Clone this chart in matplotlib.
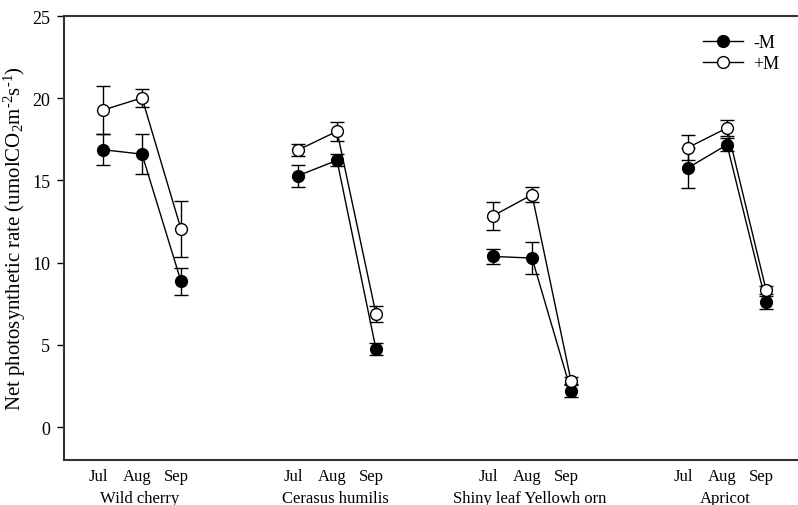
import numpy as np
import matplotlib
matplotlib.use("Agg")
import matplotlib.pyplot as plt
from matplotlib.lines import Line2D

plt.rcParams['font.family'] = ['Liberation Serif', 'DejaVu Serif']
plt.rcParams['mathtext.fontset'] = 'custom'
plt.rcParams['mathtext.rm'] = 'Liberation Serif'
plt.rcParams['mathtext.default'] = 'regular'

species = ["Wild cherry", "Cerasus humilis", "Shiny leaf Yellowh orn", "Apricot"]
months = ["Jul", "Aug", "Sep"]

# 每个树种 Jul/Aug/Sep 的均值和误差
minus_m = [[16.87, 16.60, 8.86],
           [15.29, 16.22, 4.74],
           [10.38, 10.28, 2.21],
           [15.77, 17.17, 7.58]]
minus_m_err = [[0.93, 1.20, 0.82],
               [0.67, 0.36, 0.38],
               [0.48, 0.95, 0.35],
               [1.20, 0.40, 0.40]]
plus_m = [[19.28, 20.02, 12.04],
          [16.85, 17.99, 6.87],
          [12.85, 14.13, 2.82],
          [17.00, 18.19, 8.35]]
plus_m_err = [[1.45, 0.55, 1.70],
              [0.35, 0.58, 0.50],
              [0.85, 0.45, 0.20],
              [0.75, 0.50, 0.25]]

fig = plt.figure(figsize=(7.98, 5.06), dpi=100)
ax = fig.add_axes([0.0802, 0.0889, 0.9198, 0.8775])

tick_pos = []
tick_lab = []
for i, name in enumerate(species):
    x = np.arange(3) + 1 + 5 * i
    ax.errorbar(x, minus_m[i], yerr=minus_m_err[i], fmt='-o', color='black',
                mfc='black', mec='black', ms=8.5, lw=1, elinewidth=1,
                capsize=5, capthick=1, zorder=2)
    ax.errorbar(x, plus_m[i], yerr=plus_m_err[i], fmt='-o', color='black',
                mfc='white', mec='black', ms=8.5, lw=1, elinewidth=1,
                capsize=5, capthick=1, zorder=3)
    tick_pos += list(x - 0.12)
    tick_lab += months
    ax.text(x[1] - 0.05, -0.085, name, transform=ax.get_xaxis_transform(),
            ha='center', va='center', fontsize=12)

ax.set_xlim(0, 18.82)
ax.set_ylim(-2, 25)
ax.set_yticks([0, 5, 10, 15, 20, 25])
ax.set_xticks(tick_pos)
ax.set_xticklabels(tick_lab, fontsize=12)
ax.tick_params(axis='x', length=0, pad=6)
ax.tick_params(axis='y', direction='out', length=5, width=1, labelsize=13, pad=5)

for s in ['left', 'bottom', 'top']:
    ax.spines[s].set_linewidth(1.5)
    ax.spines[s].set_color('#333333')
ax.spines['right'].set_visible(False)

ax.set_ylabel("Net photosynthetic rate (umolCO$_2$m$^{\\text{-}2}$s$^{\\text{-}1}$)",
              fontsize=15, labelpad=3)

# 图例只画线和圆点，不带误差线
handles = [Line2D([], [], color='black', lw=1, marker='o', ms=8.5, mfc='black', mec='black'),
           Line2D([], [], color='black', lw=1, marker='o', ms=8.5, mfc='white', mec='black')]
ax.legend(handles, ['-M', '+M'], loc='upper right', bbox_to_anchor=(0.997, 0.995),
          frameon=False, fontsize=13, handlelength=2.2, handletextpad=0.6,
          labelspacing=0.2)

fig.savefig("out.png", dpi=100)
